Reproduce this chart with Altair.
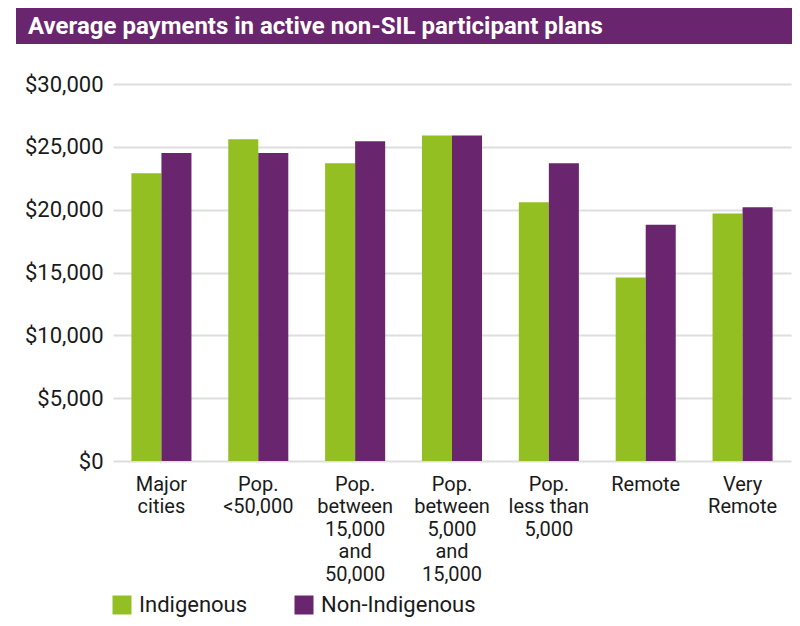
import altair as alt
import pandas as pd

TITLE = "Average payments in active non-SIL participant plans"
CATEGORIES = [
    "Major|cities",
    "Pop.|<50,000",
    "Pop.|between|15,000|and|50,000",
    "Pop.|between|5,000|and|15,000",
    "Pop.|less than|5,000",
    "Remote",
    "Very|Remote",
]
SERIES = ["Indigenous", "Non-Indigenous"]
INDIGENOUS = [22900, 25600, 23700, 25900, 20600, 14600, 19700]
NON_INDIGENOUS = [24500, 24500, 25450, 25900, 23700, 18800, 20200]
Y_TICKS = [0, 5000, 10000, 15000, 20000, 25000, 30000]

GREEN = "#93BF22"
PURPLE = "#69256E"
FONT = "Roboto"

rows = []
for c, a, b in zip(CATEGORIES, INDIGENOUS, NON_INDIGENOUS):
    rows.append({"cat": c, "group": SERIES[0], "value": a})
    rows.append({"cat": c, "group": SERIES[1], "value": b})
df = pd.DataFrame(rows)

bars = alt.Chart(df).mark_bar().encode(
    x=alt.X(
        "cat:N",
        sort=CATEGORIES,
        title=None,
        scale=alt.Scale(paddingInner=0.38, paddingOuter=0.19),
        axis=alt.Axis(
            labelAngle=0,
            domain=False,
            ticks=False,
            labelPadding=13,
            labelFontSize=20,
            labelLineHeight=22.5,
            labelFont=FONT,
            labelColor="#1a1a1a",
            labelExpr="split(datum.label, '|')",
            labelBaseline="top",
        ),
    ),
    xOffset=alt.XOffset("group:N", sort=SERIES, scale=alt.Scale(paddingInner=0, paddingOuter=0)),
    y=alt.Y(
        "value:Q",
        title=None,
        scale=alt.Scale(domain=[0, 30000], nice=False),
        axis=alt.Axis(
            values=Y_TICKS,
            format="$,.0f",
            domain=False,
            ticks=False,
            labelPadding=10,
            labelFontSize=22,
            labelFont=FONT,
            labelColor="#1a1a1a",
            gridColor="#DEDEDE",
            gridWidth=1.8,
        ),
    ),
    color=alt.Color(
        "group:N",
        sort=SERIES,
        scale=alt.Scale(domain=SERIES, range=[GREEN, PURPLE]),
        legend=alt.Legend(
            title=None,
            orient="none",
            legendX=-2,
            legendY=510,
            direction="horizontal",
            symbolType="square",
            symbolSize=361,
            symbolStrokeWidth=0,
            labelFontSize=22,
            labelFont=FONT,
            labelColor="#1a1a1a",
            labelOffset=6,
            columnPadding=45,
        ),
    ),
)

band = alt.Chart(pd.DataFrame({"a": [0]})).mark_rect(color=PURPLE).encode(
    x=alt.value(-97), x2=alt.value(679), y=alt.value(-76), y2=alt.value(-40)
)

title = alt.Chart(pd.DataFrame({"t": [TITLE]})).mark_text(
    color="white",
    fontWeight="bold",
    fontSize=24,
    font=FONT,
    align="left",
    baseline="alphabetic",
).encode(text="t:N", x=alt.value(-85), y=alt.value(-50))

chart = (
    alt.layer(band, title, bars)
    .properties(
        width=678,
        height=377,
        autosize=alt.AutoSizeParams(type="none"),
        padding={"left": 105, "top": 76, "right": 1, "bottom": 157},
        background="white",
    )
    .configure_view(strokeWidth=0)
)

chart.save("out.html", embed_options={"renderer": "svg", "actions": False})
